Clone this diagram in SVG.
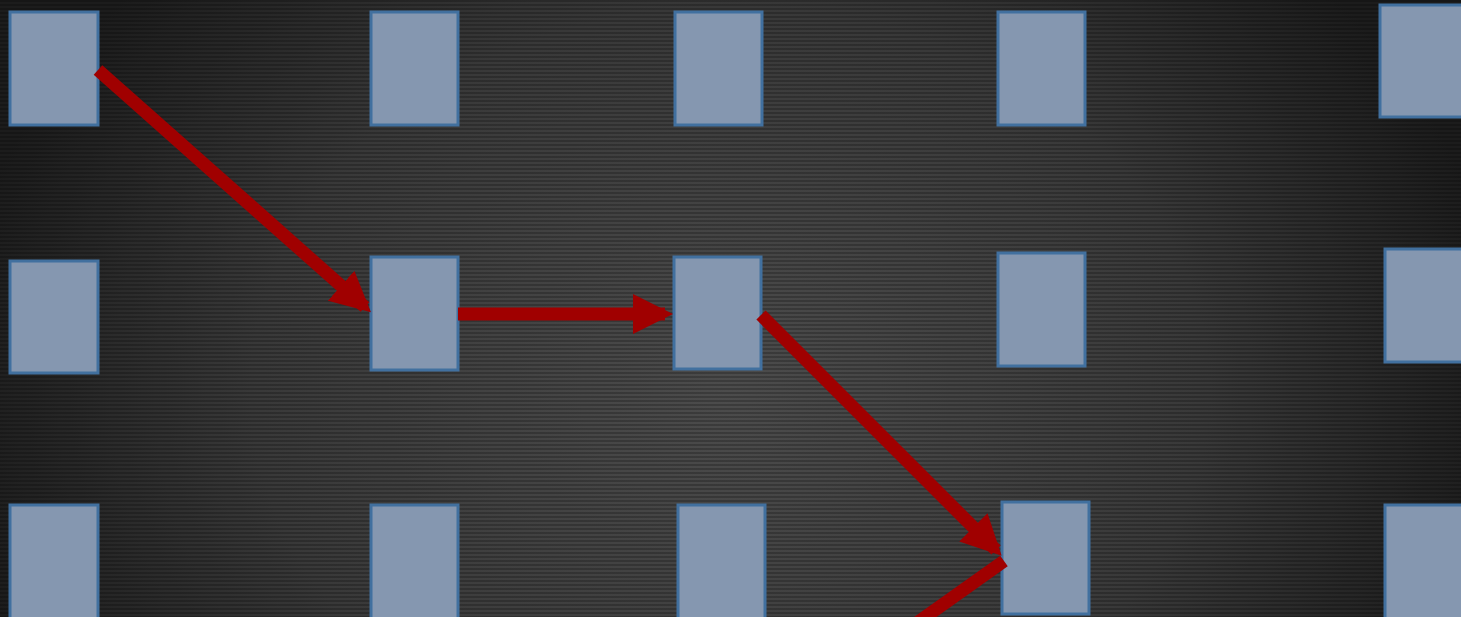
<svg xmlns="http://www.w3.org/2000/svg" width="1461" height="617" viewBox="0 0 1461 617">
<style>
.node rect{fill:#8597b0;stroke:#41709f;stroke-width:3}
.conn line{stroke:#a00000;stroke-width:13;fill:none}
</style>
<defs>
<radialGradient id="bg" gradientUnits="userSpaceOnUse" cx="730" cy="390" r="780" gradientTransform="translate(730 390) scale(1 0.8) translate(-730 -390)">
<stop offset="0" stop-color="#4c4c4c"/>
<stop offset="0.6" stop-color="#393939"/>
<stop offset="1" stop-color="#1c1c1c"/>
</radialGradient>
<pattern id="stripes" width="8" height="4" patternUnits="userSpaceOnUse">
<rect x="0" y="0" width="8" height="2" fill="#000" fill-opacity="0.22"/>
</pattern>
<marker id="ah" markerUnits="userSpaceOnUse" markerWidth="40" markerHeight="40" refX="32" refY="20" orient="auto">
<path d="M0,0 L40,20 L0,40 z" fill="#a00000"/>
</marker>
</defs>
<rect width="1461" height="617" fill="url(#bg)"/>
<rect width="1461" height="617" fill="url(#stripes)"/>
<g id="n11" class="node"><rect x="10" y="12" width="88" height="113"/></g>
<g id="n12" class="node"><rect x="371" y="12" width="87" height="113"/></g>
<g id="n13" class="node"><rect x="675" y="12" width="87" height="113"/></g>
<g id="n14" class="node"><rect x="998" y="12" width="87" height="113"/></g>
<g id="n15" class="node"><rect x="1380" y="5" width="88" height="112"/></g>
<g id="n21" class="node"><rect x="10" y="261" width="88" height="112"/></g>
<g id="n22" class="node"><rect x="371" y="257" width="87" height="113"/></g>
<g id="n23" class="node"><rect x="674" y="257" width="87" height="112"/></g>
<g id="n24" class="node"><rect x="998" y="253" width="87" height="113"/></g>
<g id="n25" class="node"><rect x="1385" y="249" width="88" height="113"/></g>
<g id="n31" class="node"><rect x="10" y="505" width="88" height="120"/></g>
<g id="n32" class="node"><rect x="371" y="505" width="87" height="120"/></g>
<g id="n33" class="node"><rect x="678" y="505" width="87" height="120"/></g>
<g id="n34" class="node"><rect x="1002" y="502" width="87" height="112"/></g>
<g id="n35" class="node"><rect x="1385" y="505" width="88" height="120"/></g>
<g id="connectors" class="conn">
<line x1="98" y1="70" x2="365" y2="307" marker-end="url(#ah)"/>
<line x1="458" y1="314" x2="665" y2="314" marker-end="url(#ah)"/>
<line x1="761" y1="315" x2="996" y2="550" marker-end="url(#ah)"/>
<line x1="1004" y1="561" x2="900" y2="635"/>
</g>
</svg>
